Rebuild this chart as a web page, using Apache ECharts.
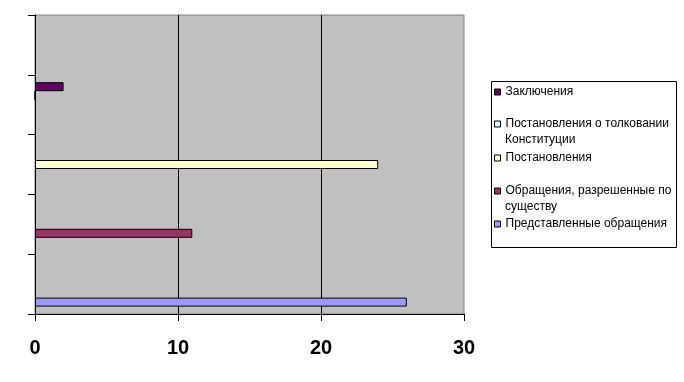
<!DOCTYPE html>
<html>
<head>
<meta charset="utf-8">
<script src="https://cdn.jsdelivr.net/npm/echarts@6/dist/echarts.min.js"></script>
<style>
html,body{margin:0;padding:0;background:#fff;}
#chart{width:684px;height:382px;}
</style>
</head>
<body>
<div id="chart"></div>
<script>
// Data
const categories = ['1', '2', '3', '4', '5'];
const seriesNames = [
  'Заключения',
  'Постановления о толковании Конституции',
  'Постановления',
  'Обращения, разрешенные по существу',
  'Представленные обращения'
];
const zaklyucheniya = [null, null, null, 2, null];
const tolkovanie = [null, null, null, 0, null];
const postanovleniya = [null, null, 24, null, null];
const obrashcheniya = [null, 11, null, null, null];
const predstavlennye = [26, null, null, null, null];
const xTicks = [0, 10, 20, 30];

const seriesData = [zaklyucheniya, tolkovanie, postanovleniya, obrashcheniya, predstavlennye];
const colors = ['#660066', '#CCFFFF', '#FFFFCC', '#993366', '#9999FF'];

// legend: label shown on first line, optional second line
const legendLines = [
  {name: seriesNames[0], first: 'Заключения', second: null, y: 92},
  {name: seriesNames[1], first: 'Постановления о толковании', second: 'Конституции', y: 124},
  {name: seriesNames[2], first: 'Постановления', second: null, y: 158},
  {name: seriesNames[3], first: 'Обращения, разрешенные по', second: 'существу', y: 191},
  {name: seriesNames[4], first: 'Представленные обращения', second: null, y: 224}
];

const chart = echarts.init(document.getElementById('chart'));
const font = 'Liberation Sans, Arial, sans-serif';

const legends = legendLines.map(l => ({
  data: [l.name],
  orient: 'vertical',
  left: 494,
  top: l.y - 7,
  padding: 0,
  itemWidth: 6,
  itemHeight: 6,
  icon: 'rect',
  selectedMode: false,
  itemStyle: {borderColor: '#000', borderWidth: 1},
  formatter: () => l.first,
  textStyle: {fontFamily: font, fontSize: 12, color: '#000', lineHeight: 14}
}));

const graphics = [
  {type: 'rect', left: 491, top: 81, shape: {width: 185, height: 166},
   style: {fill: '#fff', stroke: '#000', lineWidth: 1}, z: -1}
];
legendLines.forEach(l => {
  if (l.second) {
    graphics.push({type: 'text', left: 505, top: l.y + 16 - 7,
      style: {text: l.second, font: '12px ' + font, fill: '#000', lineHeight: 14}});
  }
});

chart.setOption({
  animation: false,
  backgroundColor: '#fff',
  graphic: graphics,
  legend: legends,
  grid: {left: 35, right: 220, top: 15, bottom: 68, show: true,
    backgroundColor: '#C0C0C0', borderColor: '#808080', borderWidth: 1},
  xAxis: {
    type: 'value', min: xTicks[0], max: xTicks[xTicks.length - 1], interval: 10,
    axisLine: {show: true, lineStyle: {color: '#000', width: 1}},
    axisTick: {show: true, length: 7, lineStyle: {color: '#000'}},
    axisLabel: {fontFamily: font, fontSize: 20, fontWeight: 'bold', color: '#000', margin: 24, lineHeight: 20},
    splitLine: {show: true, showMinLine: false, showMaxLine: false, lineStyle: {color: '#000', width: 1}}
  },
  yAxis: {
    type: 'category', data: categories,
    axisLine: {show: true, lineStyle: {color: '#000', width: 1}},
    axisTick: {show: true, length: 7, lineStyle: {color: '#000'}},
    axisLabel: {show: false},
    splitLine: {show: false}
  },
  series: seriesData.map((d, i) => ({
    type: 'bar', name: seriesNames[i], data: d,
    barWidth: 9, barGap: '0%',
    itemStyle: {color: colors[i], borderColor: '#000', borderWidth: 1}
  }))
});
</script>
</body>
</html>
